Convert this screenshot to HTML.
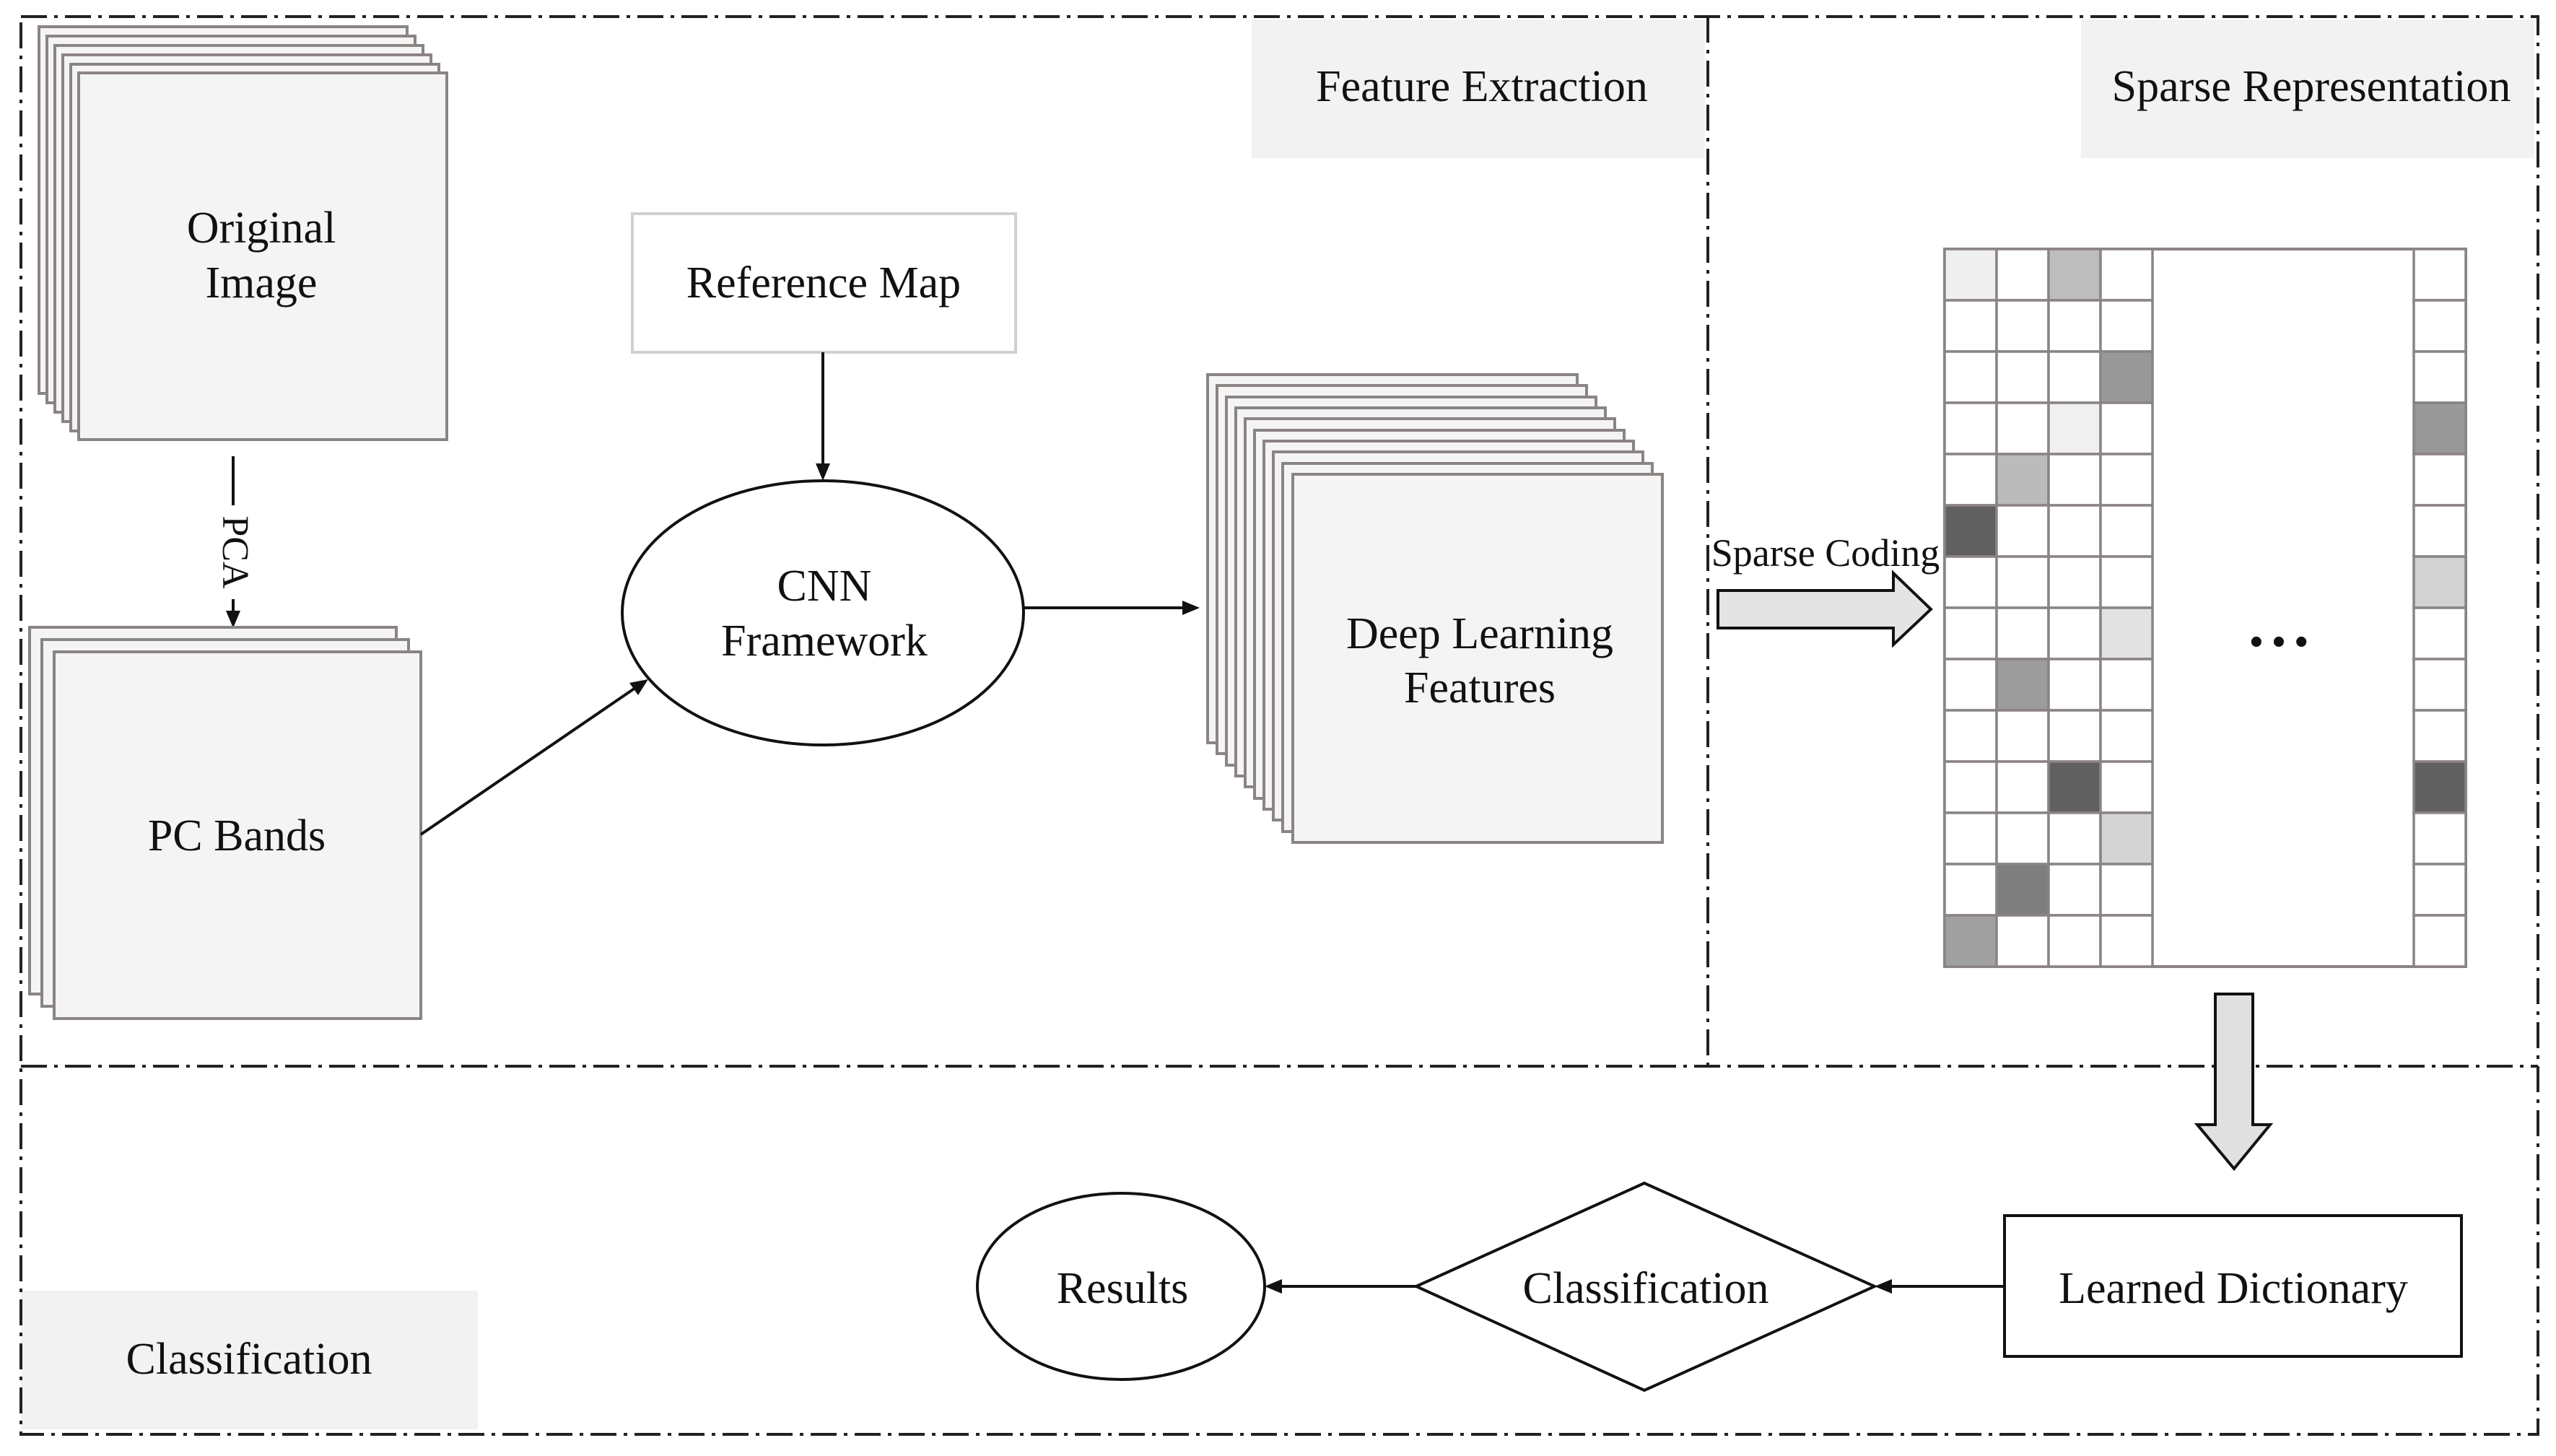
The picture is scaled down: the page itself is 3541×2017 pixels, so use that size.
<!DOCTYPE html>
<html><head><meta charset="utf-8"><style>
html,body{margin:0;padding:0;background:#fff}
svg{display:block}
text{font-family:"Liberation Serif",serif;fill:#111}
</style></head><body>
<svg width="3541" height="2017" viewBox="0 0 3541 2017" xmlns="http://www.w3.org/2000/svg">
<rect width="3541" height="2017" fill="#fff"/>
<rect x="1734" y="27" width="628" height="192" fill="#f2f2f2"/>
<rect x="2883" y="27" width="628" height="192" fill="#f2f2f2"/>
<rect x="29" y="1788" width="633" height="192" fill="#f2f2f2"/>
<g stroke="#222" stroke-width="4" fill="none" stroke-dasharray="36,10,5,10">
<rect x="29" y="23" width="3487" height="1964"/>
<line x1="29" y1="1477" x2="3516" y2="1477"/>
<line x1="2366" y1="23" x2="2366" y2="1477"/>
</g>
<text x="2053" y="140" font-size="62" text-anchor="middle">Feature Extraction</text>
<text x="3202" y="140" font-size="62" text-anchor="middle">Sparse Representation</text>
<text x="345" y="1903" font-size="62" text-anchor="middle">Classification</text>
<g fill="#f4f4f4" stroke="#8a8482" stroke-width="4">
<rect x="54" y="37" width="510" height="508"/>
<rect x="65" y="50" width="510" height="508"/>
<rect x="76" y="63" width="510" height="508"/>
<rect x="87" y="76" width="510" height="508"/>
<rect x="98" y="89" width="510" height="508"/>
<rect x="109" y="101" width="510" height="508"/>
</g>
<text x="362" y="336" font-size="62" text-anchor="middle">Original</text>
<text x="362" y="412" font-size="62" text-anchor="middle">Image</text>
<line x1="323" y1="632" x2="323" y2="850" stroke="#111" stroke-width="4"/>
<polygon points="323,870 313,846 333,846" fill="#111"/>
<rect x="305" y="700" width="36" height="130" fill="#fff"/>
<text x="0" y="0" font-size="52" transform="translate(309,765) rotate(90)" text-anchor="middle">PCA</text>
<g fill="#f4f4f4" stroke="#8a8482" stroke-width="4">
<rect x="41" y="869" width="508" height="508"/>
<rect x="58" y="886" width="508" height="508"/>
<rect x="75" y="903" width="508" height="508"/>
</g>
<text x="328" y="1178" font-size="62" text-anchor="middle">PC Bands</text>
<rect x="876" y="296" width="531" height="192" fill="#fff" stroke="#d0d0d0" stroke-width="4"/>
<text x="1141" y="412" font-size="62" text-anchor="middle">Reference Map</text>
<line x1="1140" y1="488" x2="1140" y2="646" stroke="#111" stroke-width="4"/>
<polygon points="1140,666 1130,642 1150,642" fill="#111"/>
<ellipse cx="1140" cy="849" rx="278" ry="183" fill="#fff" stroke="#111" stroke-width="4"/>
<text x="1142" y="832" font-size="62" text-anchor="middle">CNN</text>
<text x="1142" y="908" font-size="62" text-anchor="middle">Framework</text>
<line x1="583" y1="1156" x2="880" y2="953" stroke="#111" stroke-width="4"/>
<polygon points="898,941 872,946 884,963" fill="#111"/>
<line x1="1418" y1="842" x2="1640" y2="842" stroke="#111" stroke-width="4"/>
<polygon points="1662,842 1638,832 1638,852" fill="#111"/>
<g fill="#f4f4f4" stroke="#8a8482" stroke-width="4">
<rect x="1673" y="519" width="512" height="510"/>
<rect x="1686" y="534" width="512" height="510"/>
<rect x="1699" y="550" width="512" height="510"/>
<rect x="1712" y="565" width="512" height="510"/>
<rect x="1725" y="580" width="512" height="510"/>
<rect x="1738" y="596" width="512" height="510"/>
<rect x="1751" y="611" width="512" height="510"/>
<rect x="1764" y="626" width="512" height="510"/>
<rect x="1777" y="642" width="512" height="510"/>
<rect x="1791" y="657" width="512" height="510"/>
</g>
<text x="2050" y="898" font-size="62" text-anchor="middle">Deep Learning</text>
<text x="2050" y="973" font-size="62" text-anchor="middle">Features</text>
<text x="2529" y="784" font-size="54" text-anchor="middle">Sparse Coding</text>
<polygon points="2380,818 2623,818 2623,794 2675,844 2623,893 2623,870 2380,870" fill="#e4e4e4" stroke="#111" stroke-width="4"/>
<rect x="2694" y="345" width="722" height="994" fill="#fff" stroke="#8a8482" stroke-width="4"/>
<g id="cells" stroke="#8a8482" stroke-width="3.5"></g>
<text x="3157" y="906" font-size="52" text-anchor="middle" font-weight="bold">• • •</text>
<polygon points="3069,1377 3121,1377 3121,1558 3145,1558 3095,1619 3044,1558 3069,1558" fill="#e0e0e0" stroke="#111" stroke-width="4"/>
<rect x="2777" y="1684" width="633" height="195" fill="#fff" stroke="#111" stroke-width="4"/>
<text x="3094" y="1805" font-size="62" text-anchor="middle">Learned Dictionary</text>
<line x1="2777" y1="1782" x2="2617" y2="1782" stroke="#111" stroke-width="4"/>
<polygon points="2597,1782 2621,1772 2621,1792" fill="#111"/>
<polygon points="1962,1782 2278,1639 2597,1782 2278,1926" fill="#fff" stroke="#111" stroke-width="4"/>
<text x="2280" y="1805" font-size="62" text-anchor="middle">Classification</text>
<line x1="1962" y1="1782" x2="1772" y2="1782" stroke="#111" stroke-width="4"/>
<polygon points="1752,1782 1776,1772 1776,1792" fill="#111"/>
<ellipse cx="1553" cy="1782" rx="199" ry="129" fill="#fff" stroke="#111" stroke-width="4"/>
<text x="1555" y="1805" font-size="62" text-anchor="middle">Results</text>
<script>
(function(){
var g=document.getElementById('cells'),ns='http://www.w3.org/2000/svg';
var y0=345,w=72,h=71;
var shade={'0,0':'#efefef','0,2':'#bdbdbd','2,3':'#999','3,2':'#f0f0f0','3,4':'#999','4,1':'#bbb','5,0':'#606060','6,4':'#d2d2d2','7,3':'#e2e2e2','8,1':'#9c9c9c','10,2':'#606060','10,4':'#606060','11,3':'#d4d4d4','12,1':'#7e7e7e','13,0':'#a0a0a0'};
var cx=[2694,2766,2838,2910,3344];
for(var r=0;r<14;r++)for(var c=0;c<5;c++){
var e=document.createElementNS(ns,'rect');
e.setAttribute('x',cx[c]);e.setAttribute('y',y0+r*h);
e.setAttribute('width',w);e.setAttribute('height',h);
e.setAttribute('fill',shade[r+','+c]||'#fff');g.appendChild(e);}
})();
</script>
</svg>
</body></html>
